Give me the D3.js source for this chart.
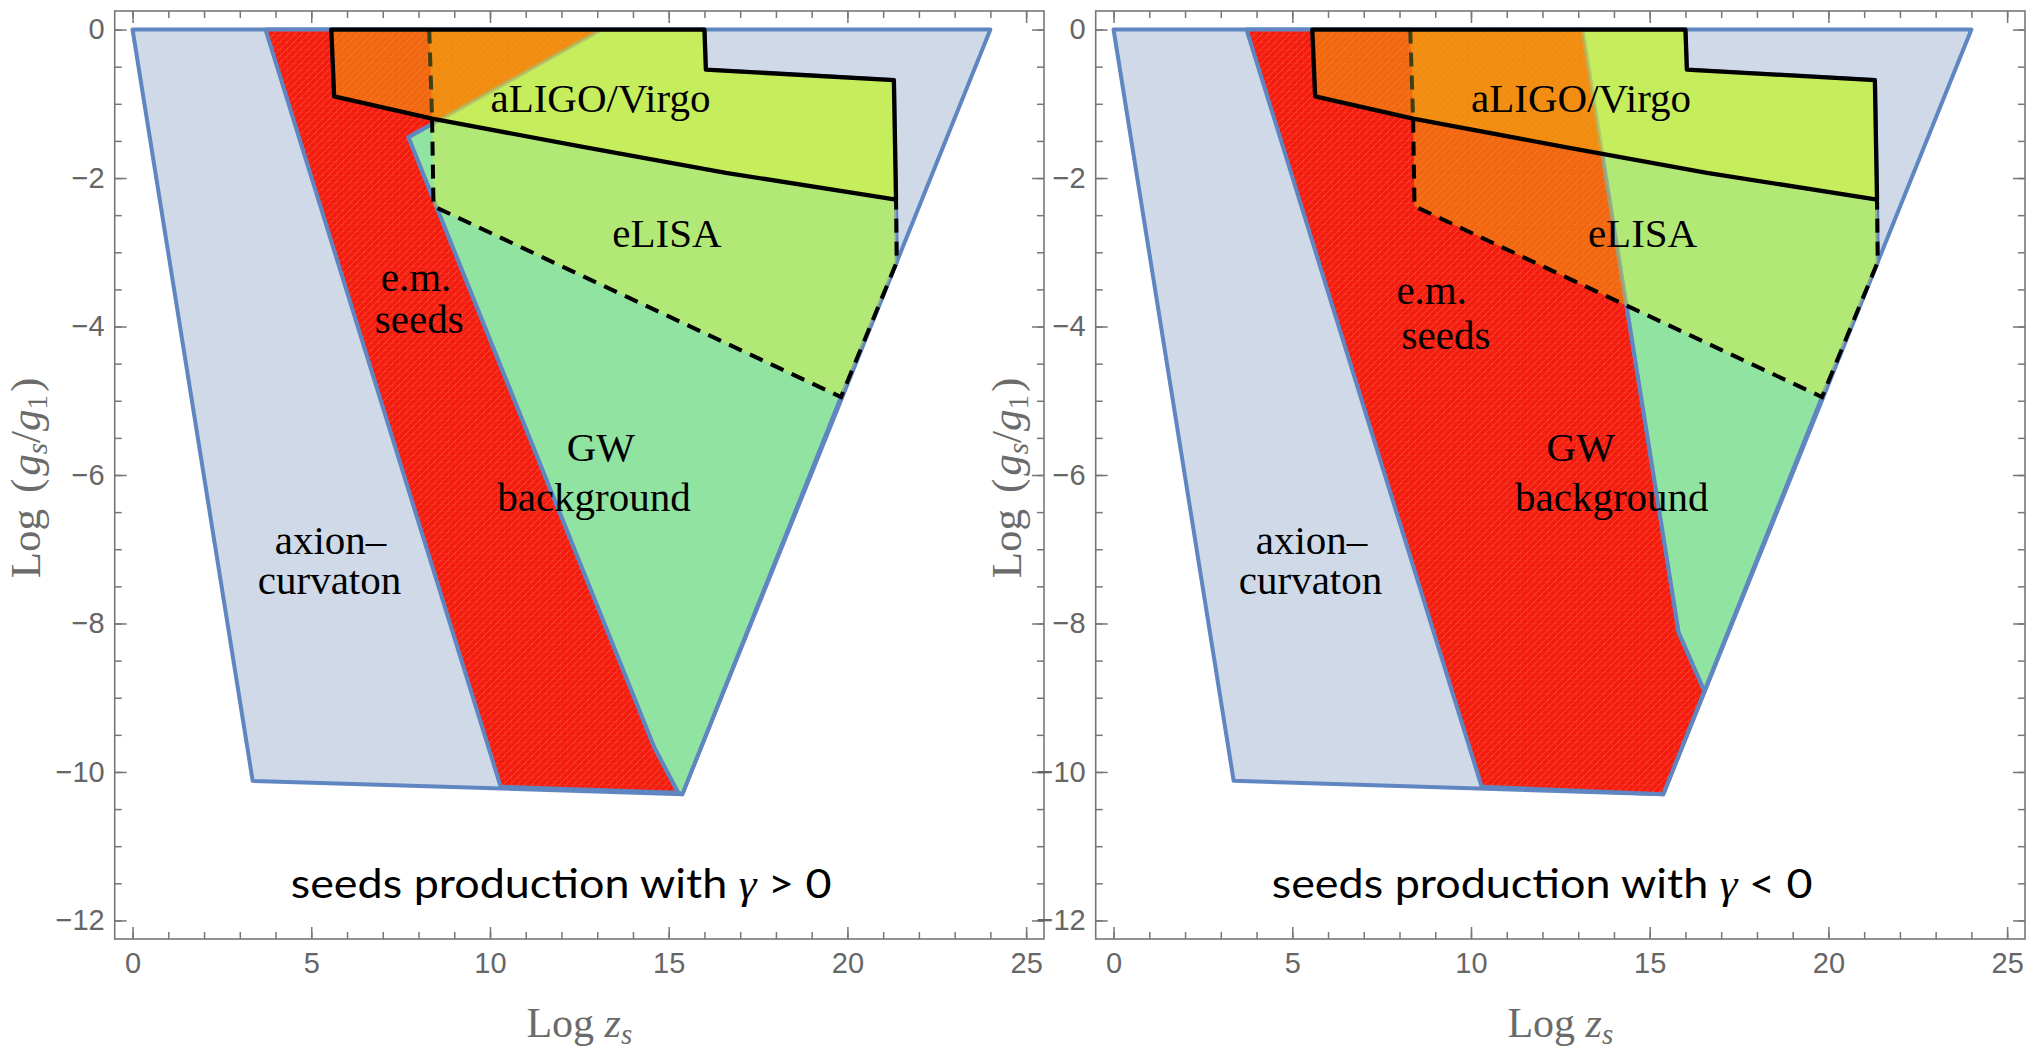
<!DOCTYPE html>
<html>
<head>
<meta charset="utf-8">
<title>Seeds production regions</title>
<script src="https://d3js.org/d3.v7.min.js"></script>
<style>
  body { margin: 0; background: #fff; }
  .axis text { font-family: "Liberation Sans", Arial, sans-serif; font-size: 29px; fill: #666; }
  .axis line { stroke: #777; stroke-width: 1.5; }
  .region { font-family: "Liberation Serif", "Times New Roman", serif; font-size: 41px; fill: #000; }
  .title { font-family: "Liberation Serif", "Times New Roman", serif; font-size: 42px; fill: #6b6b6b; }
</style>
</head>
<body>
<script>
// allowed parameter space (axion-curvaton), same in both panels
var axionCurvaton = [[0, 0], [24, 0], [15.38, -10.3], [3.36, -10.12]];

// e.m. seeds band
var emSeedsPos = [[3.72, 0], [13.12, 0], [7.72, -1.45], [14.6, -9.67], [15.27, -10.28], [10.3, -10.2]];
var emSeedsNeg = [[3.72, 0], [13.12, 0], [15.81, -8.12], [16.53, -8.91], [15.38, -10.3], [10.3, -10.2]];

// GW background region
var gwPos = [[13.12, 0], [16.0, 0], [16.04, -0.54], [21.3, -0.68], [21.36, -2.29], [21.38, -3.13],
             [19.82, -4.95], [15.38, -10.3], [15.27, -10.28], [14.6, -9.67], [7.72, -1.45]];
var gwNeg = [[13.12, 0], [16.0, 0], [16.04, -0.54], [21.3, -0.68], [21.36, -2.29], [21.38, -3.13],
             [19.82, -4.95], [16.53, -8.91], [15.81, -8.12]];

// detector sensitivity regions
var elisa = [[8.3, 0], [16.0, 0], [16.04, -0.54], [21.3, -0.68], [21.36, -2.29], [21.38, -3.13],
             [19.82, -4.95], [8.42, -2.38], [8.38, -1.2]];
var elisaEdge = [[8.3, 0], [8.38, -1.2], [8.42, -2.38], [19.82, -4.95], [21.38, -3.13], [21.36, -2.29]];
var aligo = [[5.56, 0], [16.0, 0], [16.04, -0.54], [21.3, -0.68], [21.36, -2.29], [16.6, -1.93],
             [12.6, -1.58], [8.38, -1.2], [5.64, -0.9]];

// labels
var regionNames = ["aLIGO/Virgo", "eLISA", "e.m.", "seeds", "GW", "background", "axion\u2013", "curvaton"];
var regionAtPos = [[13.09, -1.11], [14.95, -2.93], [7.93, -3.52], [8.02, -4.09], [13.1, -5.81], [12.91, -6.48], [5.54, -7.07], [5.51, -7.6]];
var regionAtNeg = [[13.08, -1.11], [14.8, -2.93], [8.9, -3.69], [9.3, -4.3], [13.07, -5.81], [13.94, -6.48], [5.54, -7.07], [5.51, -7.6]];
var panelSigns = [">", "<"];

var xTicks = [0, 5, 10, 15, 20, 25];
var yTicks = [0, -2, -4, -6, -8, -10, -12];

var W = 2028, H = 1052;
var frame = {left: 114.7, top: 11, width: 929.3, height: 928};
var panelShift = 981;

var svg = d3.select("body").append("svg").attr("width", W).attr("height", H);
var defs = svg.append("defs");

var pat = defs.append("pattern").attr("id", "mesh").attr("patternUnits", "userSpaceOnUse")
  .attr("width", 7).attr("height", 7);
pat.append("path").attr("d", "M0,7L7,0M-1,1L1,-1M6,8L8,6")
  .attr("stroke", "#ff9a80").attr("stroke-width", 0.8).attr("stroke-opacity", 0.4);
pat.append("path").attr("d", "M0,0H7M0,0V7")
  .attr("stroke", "#ff8060").attr("stroke-width", 0.6).attr("stroke-opacity", 0.3);

var x = d3.scaleLinear().domain([-0.5, 25.5]).range([frame.left, frame.left + frame.width]);
var y = d3.scaleLinear().domain([0.25, -12.25]).range([frame.top, frame.top + frame.height]);
var line = d3.line().x(function(d) { return x(d[0]); }).y(function(d) { return y(d[1]); });
function poly(p) { return line(p) + "Z"; }

var blue = "#6086c2";

[[emSeedsPos, gwPos, regionAtPos], [emSeedsNeg, gwNeg, regionAtNeg]].forEach(function(p, i) {
  var seeds = p[0], gw = p[1], at = p[2];
  var g = svg.append("g").attr("transform", "translate(" + (i * panelShift) + ",0)");

  defs.append("clipPath").attr("id", "clipRed" + i).append("path").attr("d", poly(seeds));
  defs.append("clipPath").attr("id", "clipGW" + i).append("path").attr("d", poly(gw));

  g.append("path").attr("d", poly(axionCurvaton))
    .attr("fill", "#cfd9e8").attr("stroke", blue).attr("stroke-width", 4).attr("stroke-linejoin", "round");

  g.append("path").attr("d", poly(seeds)).attr("fill", "#f41c0e");
  g.append("path").attr("d", poly(seeds)).attr("fill", "url(#mesh)")
    .attr("stroke", blue).attr("stroke-width", 4).attr("stroke-linejoin", "round");

  g.append("path").attr("d", poly(gw))
    .attr("fill", "#91e3a1").attr("stroke", blue).attr("stroke-width", 4).attr("stroke-linejoin", "round");

  // translucent yellow overlays of the detector regions
  [elisa, aligo].forEach(function(reg) {
    g.append("path").attr("d", poly(reg)).attr("fill", "rgb(240,179,18)").attr("fill-opacity", 0.49)
      .attr("clip-path", "url(#clipRed" + i + ")");
    g.append("path").attr("d", poly(reg)).attr("fill", "rgb(228,242,54)").attr("fill-opacity", 0.4)
      .attr("clip-path", "url(#clipGW" + i + ")");
  });

  // eLISA dashed boundary (first piece lies under the aLIGO shading)
  g.append("path").attr("d", line(elisaEdge.slice(0, 2)))
    .attr("fill", "none").attr("stroke", "#3f3f14").attr("stroke-width", 4).attr("stroke-dasharray", "14,9");
  g.append("path").attr("d", line(elisaEdge.slice(1)))
    .attr("fill", "none").attr("stroke", "#000").attr("stroke-width", 4).attr("stroke-dasharray", "14,9");

  // aLIGO/Virgo solid boundary
  g.append("path").attr("d", poly(aligo))
    .attr("fill", "none").attr("stroke", "#000").attr("stroke-width", 4.3).attr("stroke-linejoin", "round");

  // region labels
  g.selectAll("text.region").data(regionNames).enter().append("text")
    .attr("class", "region").attr("text-anchor", "middle")
    .attr("x", function(d, k) { return x(at[k][0]); })
    .attr("y", function(d, k) { return y(at[k][1]); })
    .text(function(d) { return d; });

  // panel caption
  var cap = g.append("text").attr("text-anchor", "middle")
    .style("font-family", "Lato, 'Open Sans', sans-serif").style("font-size", "40px").attr("fill", "#000");
  cap.append("tspan").text("seeds production with ");
  cap.append("tspan").text("\u03b3").style("font-family", "'Liberation Serif', serif").style("font-style", "italic");
  cap.append("tspan").text(" " + panelSigns[i] + " 0");
  var w = cap.node().getComputedTextLength();
  cap.attr("transform", "translate(" + x(11.99) + "," + y(-11.7) + ") scale(" + (541 / w) + ",1)");

  // frame and ticks
  g.append("rect").attr("x", frame.left).attr("y", frame.top)
    .attr("width", frame.width).attr("height", frame.height)
    .attr("fill", "none").attr("stroke", "#777").attr("stroke-width", 1.6);

  var bottom = frame.top + frame.height, right = frame.left + frame.width;
  var xMinor = d3.range(0, 26, 1), yMinor = d3.range(0, -12.5, -0.5);
  function put(axis, tx, ty) {
    var a = g.append("g").attr("class", "axis").attr("transform", "translate(" + tx + "," + ty + ")").call(axis);
    a.select(".domain").remove();
    return a;
  }
  put(d3.axisBottom(x).tickValues(xMinor).tickSize(-7).tickFormat(""), 0, bottom);
  put(d3.axisBottom(x).tickValues(xTicks).tickSize(-12).tickPadding(13), 0, bottom);
  put(d3.axisTop(x).tickValues(xMinor).tickSize(-7).tickFormat(""), 0, frame.top);
  put(d3.axisTop(x).tickValues(xTicks).tickSize(-12).tickFormat(""), 0, frame.top);
  put(d3.axisLeft(y).tickValues(yMinor).tickSize(-7).tickFormat(""), frame.left, 0);
  put(d3.axisLeft(y).tickValues(yTicks).tickSize(-12).tickPadding(10), frame.left, 0);
  put(d3.axisRight(y).tickValues(yMinor).tickSize(-7).tickFormat(""), right, 0);
  put(d3.axisRight(y).tickValues(yTicks).tickSize(-12).tickFormat(""), right, 0);

  // axis titles
  var xt = g.append("text").attr("class", "title").attr("text-anchor", "middle")
    .attr("x", (frame.left + right) / 2).attr("y", 1037);
  xt.append("tspan").text("Log ");
  xt.append("tspan").text("z").style("font-style", "italic");
  xt.append("tspan").text("s").style("font-style", "italic").style("font-size", "29px").attr("dy", 7);

  var yt = g.append("text").attr("class", "title").attr("text-anchor", "middle")
    .style("font-size", "43px")
    .attr("transform", "translate(40,478) rotate(-90)");
  yt.append("tspan").text("Log");
  yt.append("tspan").text("(").attr("dx", 16);
  yt.append("tspan").text("g").style("font-style", "italic").attr("dx", 3);
  yt.append("tspan").text("s").style("font-style", "italic").style("font-size", "29px").attr("dy", 7);
  yt.append("tspan").text("/").attr("dy", -7);
  yt.append("tspan").text("g").style("font-style", "italic");
  yt.append("tspan").text("1").style("font-size", "29px").attr("dy", 7);
  yt.append("tspan").text(")").attr("dy", -7).attr("dx", 3);
});
</script>
</body>
</html>
